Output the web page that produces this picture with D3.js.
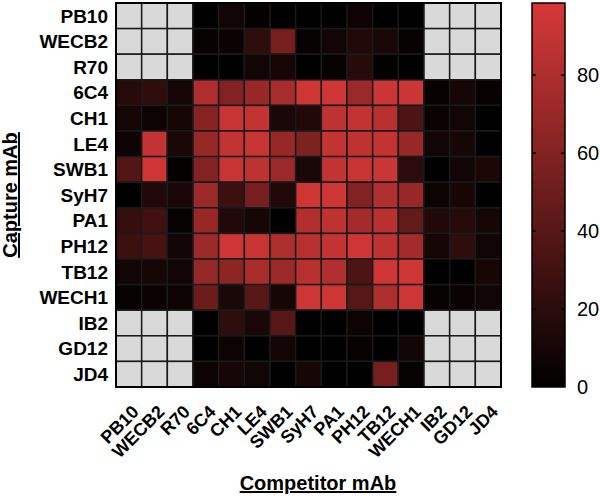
<!DOCTYPE html>
<html>
<head>
<meta charset="utf-8">
<script src="https://cdn.jsdelivr.net/npm/d3@7"></script>
<style>
  body { margin: 0; background: #fff; }
  text { font-family: "Liberation Sans", Arial, sans-serif; }
</style>
</head>
<body>
<script>
// antibody names, same order on both axes
const mAbs = ["PB10", "WECB2", "R70", "6C4", "CH1", "LE4", "SWB1", "SyH7",
  "PA1", "PH12", "TB12", "WECH1", "IB2", "GD12", "JD4"];

// % competition, rows = capture mAb, cols = competitor mAb (null = not tested)
const values = [
  [null, null, null, 1, 8, 2, 0, 0, 0, 6, 0, 0, null, null, null],
  [null, null, null, 3, 5, 22, 55, 3, 8, 15, 12, 3, null, null, null],
  [null, null, null, 0, 0, 8, 10, 0, 3, 18, 2, 0, null, null, null],
  [18, 22, 10, 80, 60, 70, 78, 95, 95, 72, 93, 93, 4, 10, 4],
  [10, 6, 10, 62, 92, 90, 12, 15, 88, 90, 85, 35, 5, 8, 1],
  [7, 90, 12, 70, 90, 92, 70, 58, 90, 88, 90, 70, 8, 10, 0],
  [38, 95, 2, 60, 92, 88, 72, 12, 90, 92, 93, 20, 1, 8, 13],
  [0, 15, 12, 72, 28, 55, 15, 95, 95, 60, 82, 70, 6, 10, 0],
  [25, 30, 3, 70, 15, 10, 0, 82, 88, 75, 85, 45, 15, 18, 10],
  [28, 32, 8, 72, 95, 92, 80, 85, 90, 95, 88, 75, 10, 22, 8],
  [8, 10, 8, 68, 65, 78, 72, 85, 82, 35, 95, 95, 0, 0, 10],
  [3, 5, 6, 50, 12, 40, 10, 95, 95, 40, 80, 95, 3, 5, 8],
  [null, null, null, 0, 22, 12, 40, 0, 0, 6, 0, 0, null, null, null],
  [null, null, null, 0, 6, 0, 8, 0, 0, 3, 0, 8, null, null, null],
  [null, null, null, 6, 10, 8, 0, 10, 0, 0, 55, 3, null, null, null]
];

const scaleTicks = [0, 20, 40, 60, 80];
const vmax = 98.5;

const width = 600, height = 498;
const gx0 = 116, gx1 = 501, gy0 = 3, gy1 = 387;

const svg = d3.select("body").append("svg")
  .attr("width", width)
  .attr("height", height);

const x = d3.scaleBand().domain(mAbs).range([gx0, gx1]);
const y = d3.scaleBand().domain(mAbs).range([gy0, gy1]);
const color = d3.scaleLinear().domain([0, vmax]).range(["#000000", "#d63838"]);

const cells = [];
values.forEach((row, i) => row.forEach((v, j) => {
  cells.push({ capture: mAbs[i], competitor: mAbs[j], v: v });
}));

svg.append("g")
  .selectAll("rect")
  .data(cells)
  .join("rect")
  .attr("x", d => x(d.competitor))
  .attr("y", d => y(d.capture))
  .attr("width", x.bandwidth())
  .attr("height", y.bandwidth())
  .attr("fill", d => d.v == null ? "#d9d9d9" : color(d.v))
  .attr("stroke", "#1a1a1a")
  .attr("stroke-width", 1.5);

svg.append("rect")
  .attr("x", gx0).attr("y", gy0)
  .attr("width", gx1 - gx0).attr("height", gy1 - gy0)
  .attr("fill", "none")
  .attr("stroke", "#000")
  .attr("stroke-width", 2);

// row labels
svg.append("g")
  .selectAll("text")
  .data(mAbs)
  .join("text")
  .attr("x", gx0 - 8)
  .attr("y", d => y(d) + y.bandwidth() / 2)
  .attr("dy", "0.36em")
  .attr("text-anchor", "end")
  .attr("font-weight", "bold")
  .attr("font-size", 19)
  .text(d => d);

// column labels
svg.append("g")
  .selectAll("text")
  .data(mAbs)
  .join("text")
  .attr("transform", d => `translate(${x(d) + x.bandwidth() / 2 + 11},${gy1 + 26}) rotate(-45)`)
  .attr("text-anchor", "end")
  .attr("font-weight", "bold")
  .attr("font-size", 18)
  .text(d => d);

// axis titles
svg.append("text")
  .attr("x", 318)
  .attr("y", 490)
  .attr("text-anchor", "middle")
  .attr("font-weight", "bold")
  .attr("font-size", 20)
  .attr("text-decoration", "underline")
  .text("Competitor mAb");

svg.append("text")
  .attr("transform", `translate(17,${(gy0 + gy1) / 2}) rotate(-90)`)
  .attr("text-anchor", "middle")
  .attr("font-weight", "bold")
  .attr("font-size", 20)
  .attr("text-decoration", "underline")
  .text("Capture mAb");

// colour bar
const cbx = 532, cbw = 33;
const cy = d3.scaleLinear().domain([0, vmax]).range([gy1, gy0]);

const grad = svg.append("defs").append("linearGradient")
  .attr("id", "cbar")
  .attr("x1", 0).attr("y1", 1).attr("x2", 0).attr("y2", 0);
grad.selectAll("stop")
  .data([0, vmax])
  .join("stop")
  .attr("offset", d => d / vmax)
  .attr("stop-color", d => color(d));

svg.append("rect")
  .attr("x", cbx).attr("y", gy0)
  .attr("width", cbw).attr("height", gy1 - gy0)
  .attr("fill", "url(#cbar)")
  .attr("stroke", "#000")
  .attr("stroke-width", 1.5);

const tk = svg.append("g")
  .selectAll("g")
  .data(scaleTicks)
  .join("g")
  .attr("transform", d => `translate(0,${cy(d)})`);

tk.filter(d => d > 0).append("line")
  .attr("x1", cbx).attr("x2", cbx + 4)
  .attr("stroke", "#000").attr("stroke-width", 1.5);
tk.filter(d => d > 0).append("line")
  .attr("x1", cbx + cbw - 4).attr("x2", cbx + cbw)
  .attr("stroke", "#000").attr("stroke-width", 1.5);

tk.append("text")
  .attr("x", 577)
  .attr("dy", "0.36em")
  .attr("font-size", 20)
  .text(d => d);
</script>
</body>
</html>
